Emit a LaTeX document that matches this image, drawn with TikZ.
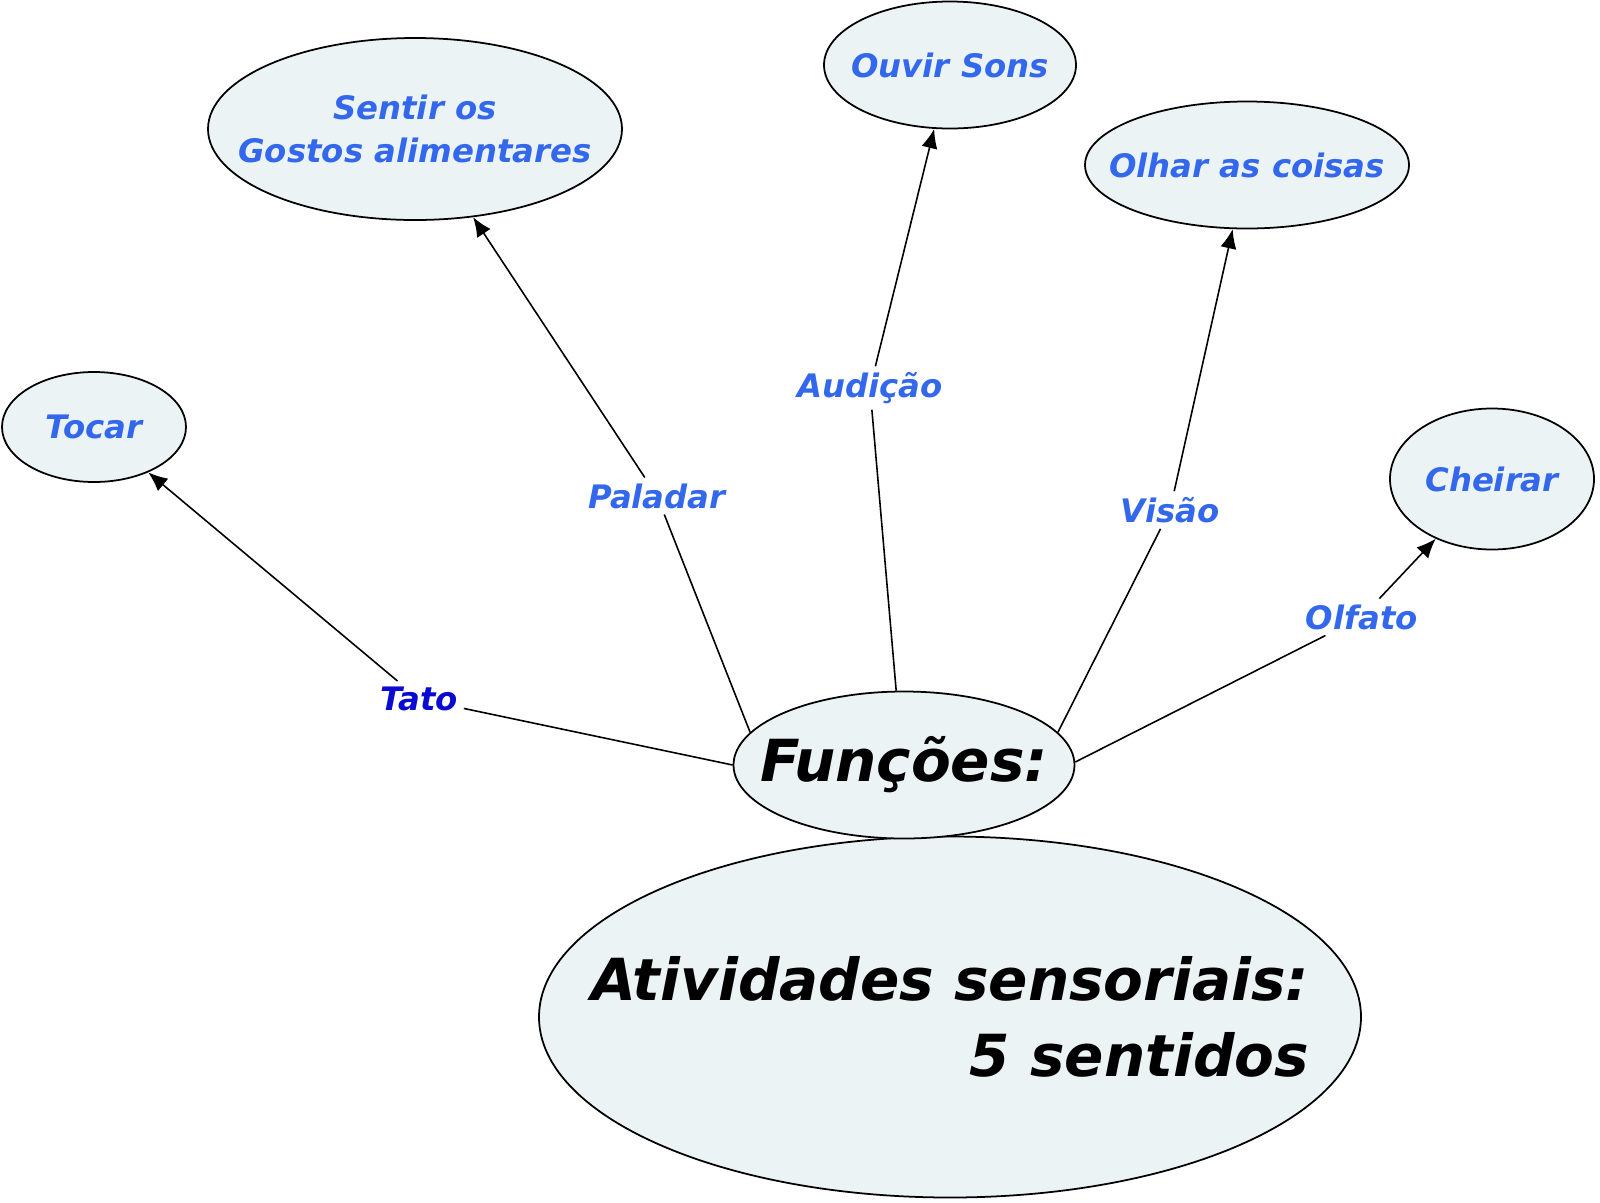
\documentclass[tikz,border=0pt]{standalone}
\usepackage{fontspec}
\setmainfont{DejaVu Sans}
\usetikzlibrary{shapes.geometric,arrows.meta}
\definecolor{sensefill}{RGB}{235,243,245}
\definecolor{senseblue}{RGB}{52,104,236}
\definecolor{tatoblue}{RGB}{10,10,210}
\tikzset{
 sense/.style={ellipse,draw,fill=sensefill,line width=0.5pt,inner sep=-30mm,
  text=senseblue,font=\fontsize{9.2}{12.2}\selectfont\bfseries\itshape,align=center},
 lbl/.style={inner sep=1.5pt,text=senseblue,font=\fontsize{9.2}{11}\selectfont\bfseries\itshape},
 lnk/.style={line width=0.45pt},
 arr/.style={line width=0.45pt,-{Latex[length=5.5pt,width=4.6pt]}}
}

\begin{document}
\begin{tikzpicture}[x=0.1mm,y=-0.1mm]
\useasboundingbox (0,0) rectangle (1600,1202);
\node[sense,minimum width=82.2mm,minimum height=36.1mm,text=black,
 font=\fontsize{16.5}{21.8}\selectfont\bfseries\itshape,align=right]
 (ativ) at (950,1017) {Atividades sensoriais:\\5 sentidos};
\node[sense,minimum width=34.1mm,minimum height=14.7mm,text=black,
 font=\fontsize{16.5}{20}\selectfont\bfseries\itshape] (fun) at (904,765) {Funções:};
%
\node[sense,minimum width=18.4mm,minimum height=11mm] (tocar) at (94,427) {Tocar};
\node[sense,minimum width=41.4mm,minimum height=18.2mm] (gosto) at (415,129) {Sentir os\\Gostos alimentares};
\node[sense,minimum width=25.2mm,minimum height=12.7mm] (sons) at (950,65) {Ouvir Sons};
\node[sense,minimum width=32.4mm,minimum height=12.7mm] (olhar) at (1247,165) {Olhar as coisas};
\node[sense,minimum width=20.4mm,minimum height=14.1mm] (cheirar) at (1492,479) {Cheirar};
%
\node[lbl,text=tatoblue] (tato) at (419,699) {Tato};
\node[lbl] (paladar) at (657,496) {Paladar};
\node[lbl] (audicao) at (870,388) {Audição};
\node[lbl] (visao) at (1170,510) {Visão};
\node[lbl] (olfato) at (1362,617) {Olfato};
%
\draw[lnk] (fun.180) -- (tato);
\draw[lnk] (fun.168) -- (paladar);
\draw[lnk] (fun.96) -- (audicao);
\draw[lnk] (fun.12) -- (visao);
\draw[lnk] (fun.1) -- (olfato);
%
\draw[arr] (tato) -- (tocar);
\draw[arr] (paladar) -- (gosto);
\draw[arr] (audicao) -- (sons);
\draw[arr] (visao) -- (olhar);
\draw[arr] (olfato) -- (cheirar);
\end{tikzpicture}
\end{document}
